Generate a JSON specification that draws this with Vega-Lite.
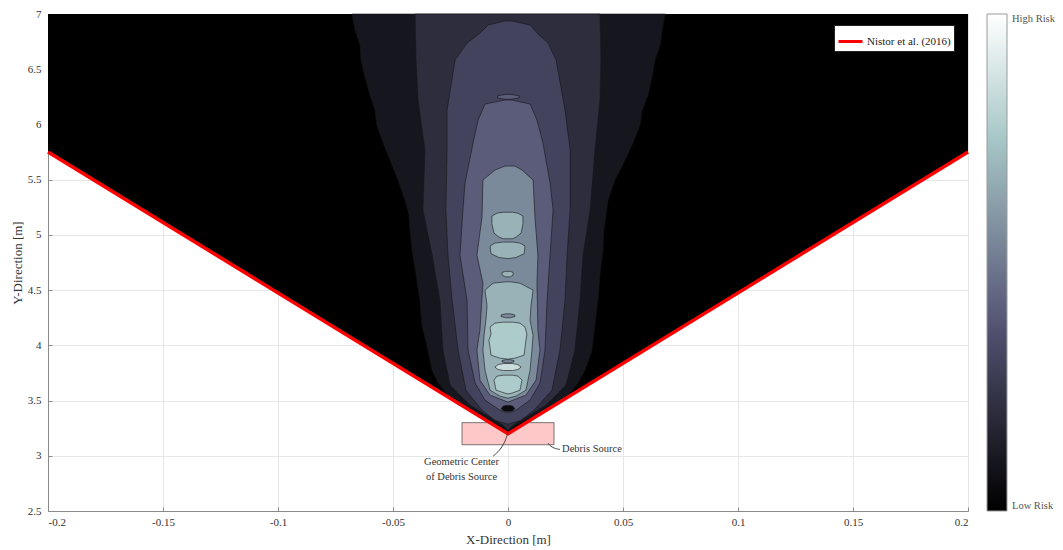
{
  "$schema": "https://vega.github.io/schema/vega-lite/v6.json",
  "width": 920,
  "height": 497,
  "autosize": "none",
  "padding": {"left": 48, "top": 14, "right": 95, "bottom": 39},
  "background": "white",
  "config": {
    "view": {"stroke": "#9a9a9a", "strokeWidth": 1},
    "axis": {
      "labelFont": "Liberation Serif",
      "labelFontSize": 11,
      "labelColor": "#333333",
      "titleFont": "Liberation Serif",
      "titleFontSize": 13,
      "titleFontWeight": "normal",
      "titleColor": "#333333",
      "gridColor": "#e6e6e6",
      "gridWidth": 1,
      "domainColor": "#8a8a8a",
      "tickColor": "#8a8a8a",
      "tickSize": -4
    }
  },
  "datasets": {
    "contours": [
      {"lv":1,"s":"L1","risk":0.1,"y":7.0,"xl":-0.0678,"xr":0.0683},
      {"lv":1,"s":"L1","risk":0.1,"y":6.855,"xl":-0.0665,"xr":0.067},
      {"lv":1,"s":"L1","risk":0.1,"y":6.719,"xl":-0.0643,"xr":0.0661},
      {"lv":1,"s":"L1","risk":0.1,"y":6.583,"xl":-0.0639,"xr":0.0639},
      {"lv":1,"s":"L1","risk":0.1,"y":6.429,"xl":-0.0622,"xr":0.0626},
      {"lv":1,"s":"L1","risk":0.1,"y":6.266,"xl":-0.06,"xr":0.0609},
      {"lv":1,"s":"L1","risk":0.1,"y":6.13,"xl":-0.0578,"xr":0.0583},
      {"lv":1,"s":"L1","risk":0.1,"y":5.995,"xl":-0.057,"xr":0.0574},
      {"lv":1,"s":"L1","risk":0.1,"y":5.832,"xl":-0.0543,"xr":0.0543},
      {"lv":1,"s":"L1","risk":0.1,"y":5.678,"xl":-0.0513,"xr":0.0509},
      {"lv":1,"s":"L1","risk":0.1,"y":5.496,"xl":-0.0478,"xr":0.0465},
      {"lv":1,"s":"L1","risk":0.1,"y":5.315,"xl":-0.0448,"xr":0.0435},
      {"lv":1,"s":"L1","risk":0.1,"y":5.179,"xl":-0.043,"xr":0.0426},
      {"lv":1,"s":"L1","risk":0.1,"y":5.043,"xl":-0.0426,"xr":0.0417},
      {"lv":1,"s":"L1","risk":0.1,"y":4.862,"xl":-0.0417,"xr":0.0413},
      {"lv":1,"s":"L1","risk":0.1,"y":4.636,"xl":-0.04,"xr":0.04},
      {"lv":1,"s":"L1","risk":0.1,"y":4.409,"xl":-0.0383,"xr":0.0391},
      {"lv":1,"s":"L1","risk":0.1,"y":4.183,"xl":-0.0374,"xr":0.0378},
      {"lv":1,"s":"L1","risk":0.1,"y":3.957,"xl":-0.0348,"xr":0.0365},
      {"lv":1,"s":"L1","risk":0.1,"y":3.775,"xl":-0.033,"xr":0.0335},
      {"lv":1,"s":"L1","risk":0.1,"y":3.658,"xl":-0.0304,"xr":0.0304},
      {"lv":1,"s":"L1","risk":0.1,"y":3.549,"xl":-0.0261,"xr":0.0261},
      {"lv":1,"s":"L1","risk":0.1,"y":3.413,"xl":-0.0165,"xr":0.0165},
      {"lv":1,"s":"L1","risk":0.1,"y":3.277,"xl":-0.0035,"xr":0.0035},
      {"lv":1,"s":"L1","risk":0.1,"y":3.213,"xl":0,"xr":0},

      {"lv":2,"s":"L2","risk":0.2,"y":7.0,"xl":-0.0404,"xr":0.04},
      {"lv":2,"s":"L2","risk":0.2,"y":6.583,"xl":-0.04,"xr":0.0404},
      {"lv":2,"s":"L2","risk":0.2,"y":6.221,"xl":-0.0391,"xr":0.04},
      {"lv":2,"s":"L2","risk":0.2,"y":5.768,"xl":-0.0361,"xr":0.0378},
      {"lv":2,"s":"L2","risk":0.2,"y":5.225,"xl":-0.037,"xr":0.0357},
      {"lv":2,"s":"L2","risk":0.2,"y":4.817,"xl":-0.033,"xr":0.0326},
      {"lv":2,"s":"L2","risk":0.2,"y":4.409,"xl":-0.0296,"xr":0.0313},
      {"lv":2,"s":"L2","risk":0.2,"y":3.957,"xl":-0.0283,"xr":0.0291},
      {"lv":2,"s":"L2","risk":0.2,"y":3.639,"xl":-0.0252,"xr":0.0252},
      {"lv":2,"s":"L2","risk":0.2,"y":3.458,"xl":-0.0165,"xr":0.0165},
      {"lv":2,"s":"L2","risk":0.2,"y":3.277,"xl":-0.0022,"xr":0.0022},
      {"lv":2,"s":"L2","risk":0.2,"y":3.232,"xl":0,"xr":0},

      {"lv":3,"s":"L3","risk":0.3,"y":6.937,"xl":-0.0013,"xr":0.0017},
      {"lv":3,"s":"L3","risk":0.3,"y":6.9,"xl":-0.0087,"xr":0.0096},
      {"lv":3,"s":"L3","risk":0.3,"y":6.82,"xl":-0.0125,"xr":0.013},
      {"lv":3,"s":"L3","risk":0.3,"y":6.737,"xl":-0.0178,"xr":0.0174},
      {"lv":3,"s":"L3","risk":0.3,"y":6.583,"xl":-0.023,"xr":0.0209},
      {"lv":3,"s":"L3","risk":0.3,"y":6.13,"xl":-0.0265,"xr":0.0248},
      {"lv":3,"s":"L3","risk":0.3,"y":5.768,"xl":-0.0265,"xr":0.027},
      {"lv":3,"s":"L3","risk":0.3,"y":5.225,"xl":-0.027,"xr":0.027},
      {"lv":3,"s":"L3","risk":0.3,"y":4.817,"xl":-0.0261,"xr":0.0257},
      {"lv":3,"s":"L3","risk":0.3,"y":4.409,"xl":-0.0243,"xr":0.0248},
      {"lv":3,"s":"L3","risk":0.3,"y":3.957,"xl":-0.0217,"xr":0.0226},
      {"lv":3,"s":"L3","risk":0.3,"y":3.594,"xl":-0.0183,"xr":0.0191},
      {"lv":3,"s":"L3","risk":0.3,"y":3.413,"xl":-0.0113,"xr":0.0113},
      {"lv":3,"s":"L3","risk":0.3,"y":3.322,"xl":-0.0057,"xr":0.0057},
      {"lv":3,"s":"L3","risk":0.3,"y":3.286,"xl":0,"xr":0},

      {"lv":4,"s":"L4","risk":0.4,"y":6.221,"xl":-0.0013,"xr":0.0017},
      {"lv":4,"s":"L4","risk":0.4,"y":6.185,"xl":-0.01,"xr":0.0096},
      {"lv":4,"s":"L4","risk":0.4,"y":6.04,"xl":-0.013,"xr":0.0126},
      {"lv":4,"s":"L4","risk":0.4,"y":5.832,"xl":-0.0152,"xr":0.0152},
      {"lv":4,"s":"L4","risk":0.4,"y":5.469,"xl":-0.0187,"xr":0.0183},
      {"lv":4,"s":"L4","risk":0.4,"y":5.225,"xl":-0.0196,"xr":0.0196},
      {"lv":4,"s":"L4","risk":0.4,"y":4.817,"xl":-0.0209,"xr":0.0183},
      {"lv":4,"s":"L4","risk":0.4,"y":4.409,"xl":-0.0178,"xr":0.017},
      {"lv":4,"s":"L4","risk":0.4,"y":3.957,"xl":-0.0174,"xr":0.0161},
      {"lv":4,"s":"L4","risk":0.4,"y":3.658,"xl":-0.0143,"xr":0.0139},
      {"lv":4,"s":"L4","risk":0.4,"y":3.504,"xl":-0.01,"xr":0.0096},
      {"lv":4,"s":"L4","risk":0.4,"y":3.413,"xl":-0.0035,"xr":0.0035},
      {"lv":4,"s":"L4","risk":0.4,"y":3.386,"xl":0,"xr":0},
      {"lv":4,"s":"L4e","risk":0.4,"y":6.272,"xl":-0.001,"xr":0.001},
      {"lv":4,"s":"L4e","risk":0.4,"y":6.26,"xl":-0.0045,"xr":0.0048},
      {"lv":4,"s":"L4e","risk":0.4,"y":6.24,"xl":-0.0045,"xr":0.0048},
      {"lv":4,"s":"L4e","risk":0.4,"y":6.228,"xl":-0.001,"xr":0.001},

      {"lv":5,"s":"L5","risk":0.55,"y":5.623,"xl":-0.0013,"xr":0.003},
      {"lv":5,"s":"L5","risk":0.55,"y":5.587,"xl":-0.0057,"xr":0.0061},
      {"lv":5,"s":"L5","risk":0.55,"y":5.496,"xl":-0.0109,"xr":0.0109},
      {"lv":5,"s":"L5","risk":0.55,"y":5.161,"xl":-0.0113,"xr":0.0117},
      {"lv":5,"s":"L5","risk":0.55,"y":4.817,"xl":-0.0135,"xr":0.013},
      {"lv":5,"s":"L5","risk":0.55,"y":4.563,"xl":-0.0109,"xr":0.0126},
      {"lv":5,"s":"L5","risk":0.55,"y":4.138,"xl":-0.0122,"xr":0.013},
      {"lv":5,"s":"L5","risk":0.55,"y":3.957,"xl":-0.0135,"xr":0.0139},
      {"lv":5,"s":"L5","risk":0.55,"y":3.685,"xl":-0.0122,"xr":0.0122},
      {"lv":5,"s":"L5","risk":0.55,"y":3.549,"xl":-0.0078,"xr":0.0078},
      {"lv":5,"s":"L5","risk":0.55,"y":3.486,"xl":0,"xr":0},

      {"lv":6,"s":"A","risk":0.68,"y":5.205,"xl":-0.002,"xr":0.002},
      {"lv":6,"s":"A","risk":0.68,"y":5.197,"xl":-0.0048,"xr":0.0043},
      {"lv":6,"s":"A","risk":0.68,"y":5.17,"xl":-0.007,"xr":0.0065},
      {"lv":6,"s":"A","risk":0.68,"y":5.1,"xl":-0.007,"xr":0.0065},
      {"lv":6,"s":"A","risk":0.68,"y":5.016,"xl":-0.0061,"xr":0.0057},
      {"lv":6,"s":"A","risk":0.68,"y":4.98,"xl":-0.0039,"xr":0.0035},
      {"lv":6,"s":"A","risk":0.68,"y":4.965,"xl":-0.002,"xr":0.002},
      {"lv":6,"s":"B","risk":0.68,"y":4.935,"xl":-0.002,"xr":0.002},
      {"lv":6,"s":"B","risk":0.68,"y":4.926,"xl":-0.0057,"xr":0.0052},
      {"lv":6,"s":"B","risk":0.68,"y":4.9,"xl":-0.0078,"xr":0.0074},
      {"lv":6,"s":"B","risk":0.68,"y":4.83,"xl":-0.0074,"xr":0.007},
      {"lv":6,"s":"B","risk":0.68,"y":4.795,"xl":-0.0039,"xr":0.0035},
      {"lv":6,"s":"B","risk":0.68,"y":4.785,"xl":0,"xr":0},
      {"lv":6,"s":"C","risk":0.68,"y":4.67,"xl":-0.001,"xr":0.001},
      {"lv":6,"s":"C","risk":0.68,"y":4.66,"xl":-0.0026,"xr":0.0022},
      {"lv":6,"s":"C","risk":0.68,"y":4.635,"xl":-0.0026,"xr":0.0022},
      {"lv":6,"s":"C","risk":0.68,"y":4.62,"xl":-0.001,"xr":0.001},
      {"lv":6,"s":"D","risk":0.68,"y":4.575,"xl":-0.001,"xr":0.001},
      {"lv":6,"s":"D","risk":0.68,"y":4.563,"xl":-0.0065,"xr":0.0052},
      {"lv":6,"s":"D","risk":0.68,"y":4.5,"xl":-0.01,"xr":0.0109},
      {"lv":6,"s":"D","risk":0.68,"y":4.36,"xl":-0.0091,"xr":0.01},
      {"lv":6,"s":"D","risk":0.68,"y":4.228,"xl":-0.0096,"xr":0.0096},
      {"lv":6,"s":"D","risk":0.68,"y":4.09,"xl":-0.0104,"xr":0.0109},
      {"lv":6,"s":"D","risk":0.68,"y":3.957,"xl":-0.0109,"xr":0.0104},
      {"lv":6,"s":"D","risk":0.68,"y":3.775,"xl":-0.01,"xr":0.0096},
      {"lv":6,"s":"D","risk":0.68,"y":3.594,"xl":-0.0078,"xr":0.0078},
      {"lv":6,"s":"D","risk":0.68,"y":3.54,"xl":-0.0035,"xr":0.0035},
      {"lv":6,"s":"D","risk":0.68,"y":3.522,"xl":0,"xr":0},

      {"lv":7,"s":"E","risk":0.77,"y":4.21,"xl":-0.002,"xr":0.002},
      {"lv":7,"s":"E","risk":0.77,"y":4.201,"xl":-0.0057,"xr":0.0052},
      {"lv":7,"s":"E","risk":0.77,"y":4.165,"xl":-0.0078,"xr":0.0074},
      {"lv":7,"s":"E","risk":0.77,"y":4.1,"xl":-0.0074,"xr":0.0082},
      {"lv":7,"s":"E","risk":0.77,"y":4.047,"xl":-0.0083,"xr":0.0078},
      {"lv":7,"s":"E","risk":0.77,"y":3.98,"xl":-0.0078,"xr":0.0074},
      {"lv":7,"s":"E","risk":0.77,"y":3.911,"xl":-0.0074,"xr":0.007},
      {"lv":7,"s":"E","risk":0.77,"y":3.884,"xl":-0.0035,"xr":0.003},
      {"lv":7,"s":"E","risk":0.77,"y":3.875,"xl":0,"xr":0},
      {"lv":7,"s":"F","risk":0.77,"y":3.73,"xl":-0.002,"xr":0.002},
      {"lv":7,"s":"F","risk":0.77,"y":3.721,"xl":-0.0048,"xr":0.0043},
      {"lv":7,"s":"F","risk":0.77,"y":3.685,"xl":-0.0061,"xr":0.0061},
      {"lv":7,"s":"F","risk":0.77,"y":3.594,"xl":-0.0052,"xr":0.0052},
      {"lv":7,"s":"F","risk":0.77,"y":3.567,"xl":-0.0013,"xr":0.0017},
      {"lv":7,"s":"F","risk":0.77,"y":3.56,"xl":0,"xr":0},

      {"lv":8,"s":"G","risk":0.85,"y":3.835,"xl":-0.002,"xr":0.002},
      {"lv":8,"s":"G","risk":0.85,"y":3.825,"xl":-0.0043,"xr":0.0043},
      {"lv":8,"s":"G","risk":0.85,"y":3.803,"xl":-0.0057,"xr":0.0057},
      {"lv":8,"s":"G","risk":0.85,"y":3.781,"xl":-0.0043,"xr":0.0043},
      {"lv":8,"s":"G","risk":0.85,"y":3.772,"xl":-0.002,"xr":0.002},
      {"lv":8,"s":"H","risk":0.55,"y":4.285,"xl":-0.001,"xr":0.001},
      {"lv":8,"s":"H","risk":0.55,"y":4.275,"xl":-0.003,"xr":0.003},
      {"lv":8,"s":"H","risk":0.55,"y":4.26,"xl":-0.003,"xr":0.003},
      {"lv":8,"s":"H","risk":0.55,"y":4.25,"xl":-0.001,"xr":0.001},
      {"lv":8,"s":"I","risk":0.55,"y":3.87,"xl":-0.001,"xr":0.001},
      {"lv":8,"s":"I","risk":0.55,"y":3.862,"xl":-0.0026,"xr":0.0026},
      {"lv":8,"s":"I","risk":0.55,"y":3.85,"xl":-0.0026,"xr":0.0026},
      {"lv":8,"s":"I","risk":0.55,"y":3.842,"xl":-0.001,"xr":0.001},

      {"lv":9,"s":"K","risk":0.05,"y":3.455,"xl":-0.001,"xr":0.001},
      {"lv":9,"s":"K","risk":0.05,"y":3.448,"xl":-0.0022,"xr":0.0022},
      {"lv":9,"s":"K","risk":0.05,"y":3.425,"xl":-0.003,"xr":0.003},
      {"lv":9,"s":"K","risk":0.05,"y":3.405,"xl":-0.0018,"xr":0.0018},
      {"lv":9,"s":"K","risk":0.05,"y":3.4,"xl":0,"xr":0}
    ],
    "wedge": [
      {"x": -0.2, "y": 5.75, "top": 7},
      {"x": 0, "y": 3.2, "top": 7},
      {"x": 0.2, "y": 5.75, "top": 7}
    ],
    "src": [
      {"x": -0.02, "x2": 0.02, "y": 3.1, "y2": 3.3}
    ],
    "lead": [
      {"g": "center", "i": 0, "x": 0, "y": 3.213},
      {"g": "center", "i": 1, "x": -0.0013, "y": 3.123},
      {"g": "center", "i": 2, "x": -0.0035, "y": 3.05},
      {"g": "center", "i": 3, "x": -0.0065, "y": 2.996},
      {"g": "source", "i": 0, "x": 0.0174, "y": 3.114},
      {"g": "source", "i": 1, "x": 0.0185, "y": 3.085},
      {"g": "source", "i": 2, "x": 0.0205, "y": 3.065},
      {"g": "source", "i": 3, "x": 0.0226, "y": 3.057}
    ],
    "txtL": [
      {"x": 0.0235, "y": 3.06, "label": "Debris Source"}
    ],
    "txtC": [
      {"x": -0.0202, "y": 2.942, "label": "Geometric Center"},
      {"x": -0.0202, "y": 2.809, "label": "of Debris Source"}
    ]
  },
  "layer": [
    {
      "data": {"name": "src"},
      "mark": {"type": "rect", "fill": "#ffc8c8", "stroke": "#555555", "strokeWidth": 0.8},
      "encoding": {
        "x": {
          "field": "x", "type": "quantitative",
          "scale": {"domain": [-0.2, 0.2], "nice": false, "zero": false},
          "axis": {
            "title": "X-Direction [m]",
            "values": [-0.2, -0.15, -0.1, -0.05, 0, 0.05, 0.1, 0.15, 0.2],
            "labelExpr": "datum.value < 0 ? '-' + format(-datum.value, '~g') : format(datum.value, '~g')",
            "labelPadding": 9,
            "titlePadding": 6,
            "grid": true
          }
        },
        "x2": {"field": "x2"},
        "y": {
          "field": "y", "type": "quantitative",
          "scale": {"domain": [2.5, 7], "nice": false, "zero": false},
          "axis": {
            "title": "Y-Direction [m]",
            "values": [2.5, 3, 3.5, 4, 4.5, 5, 5.5, 6, 6.5, 7],
            "labelExpr": "format(datum.value, '~g')",
            "labelPadding": 11,
            "titlePadding": 3,
            "grid": true
          }
        },
        "y2": {"field": "y2"}
      }
    },
    {
      "data": {"name": "wedge"},
      "mark": {"type": "area", "fill": "#000000", "orient": "vertical"},
      "encoding": {
        "x": {"field": "x", "type": "quantitative"},
        "y": {"field": "y", "type": "quantitative"},
        "y2": {"field": "top"}
      }
    },
    {
      "data": {"name": "contours"},
      "encoding": {
        "y": {"field": "y", "type": "quantitative"},
        "x": {"field": "xl", "type": "quantitative", "stack": null},
        "x2": {"field": "xr"},
        "detail": {"field": "s", "type": "nominal"},
        "color": {
          "field": "risk", "type": "quantitative",
          "scale": {
            "type": "linear",
            "domain": [0, 0.375, 0.75, 1],
            "range": ["#000000", "#545474", "#a7c7c7", "#ffffff"],
            "interpolate": "rgb"
          },
          "legend": {
            "title": null,
            "orient": "none",
            "legendX": 939,
            "legendY": 0,
            "direction": "vertical",
            "gradientLength": 497,
            "gradientThickness": 20,
            "gradientStrokeColor": "#9a9a9a",
            "gradientStrokeWidth": 1,
            "values": [0, 1],
            "labelExpr": "datum.value >= 1 ? 'High Risk' : 'Low Risk'",
            "labelFont": "Liberation Serif",
            "labelFontSize": 10.5,
            "labelColor": "#555555",
            "labelOffset": 5,
            "labelOverlap": false,
            "padding": 0
          }
        }
      },
      "layer": [
        {"transform": [{"filter": "datum.lv == 1"}], "mark": {"type": "area", "orient": "horizontal", "stroke": "#161616", "strokeWidth": 0.6}},
        {"transform": [{"filter": "datum.lv == 2"}], "mark": {"type": "area", "orient": "horizontal", "stroke": "#161616", "strokeWidth": 0.6}},
        {"transform": [{"filter": "datum.lv == 3"}], "mark": {"type": "area", "orient": "horizontal", "stroke": "#161616", "strokeWidth": 0.6}},
        {"transform": [{"filter": "datum.lv == 4"}], "mark": {"type": "area", "orient": "horizontal", "stroke": "#161616", "strokeWidth": 0.6}},
        {"transform": [{"filter": "datum.lv == 5"}], "mark": {"type": "area", "orient": "horizontal", "stroke": "#161616", "strokeWidth": 0.6}},
        {"transform": [{"filter": "datum.lv == 6"}], "mark": {"type": "area", "orient": "horizontal", "stroke": "#161616", "strokeWidth": 0.6}},
        {"transform": [{"filter": "datum.lv == 7"}], "mark": {"type": "area", "orient": "horizontal", "stroke": "#161616", "strokeWidth": 0.6}},
        {"transform": [{"filter": "datum.lv == 8"}], "mark": {"type": "area", "orient": "horizontal", "stroke": "#161616", "strokeWidth": 0.6}},
        {"transform": [{"filter": "datum.lv == 9"}], "mark": {"type": "area", "orient": "horizontal", "stroke": "#161616", "strokeWidth": 0.6}}
      ]
    },
    {
      "data": {"name": "wedge"},
      "mark": {"type": "line", "strokeWidth": 3.5},
      "encoding": {
        "x": {"field": "x", "type": "quantitative"},
        "y": {"field": "y", "type": "quantitative"},
        "stroke": {
          "datum": "Nistor et al. (2016)", "type": "nominal",
          "scale": {"range": ["#ff0000"]},
          "legend": {
            "title": null,
            "orient": "none",
            "legendX": 786,
            "legendY": 11,
            "padding": 3,
            "fillColor": "#ffffff",
            "strokeColor": "#222222",
            "symbolType": "stroke",
            "symbolSize": 576,
            "symbolStrokeWidth": 3,
            "labelFont": "Liberation Serif",
            "labelFontSize": 11,
            "labelColor": "#222222",
            "labelOffset": 3
          }
        }
      }
    },
    {
      "data": {"name": "lead"},
      "mark": {"type": "line", "color": "#333333", "strokeWidth": 0.9, "interpolate": "basis"},
      "encoding": {
        "x": {"field": "x", "type": "quantitative"},
        "y": {"field": "y", "type": "quantitative"},
        "detail": {"field": "g", "type": "nominal"},
        "order": {"field": "i", "type": "quantitative"}
      }
    },
    {
      "data": {"name": "txtL"},
      "mark": {"type": "text", "align": "left", "baseline": "middle", "font": "Liberation Serif", "fontSize": 10.5, "color": "#333333"},
      "encoding": {
        "x": {"field": "x", "type": "quantitative"},
        "y": {"field": "y", "type": "quantitative"},
        "text": {"field": "label"}
      }
    },
    {
      "data": {"name": "txtC"},
      "mark": {"type": "text", "align": "center", "baseline": "middle", "font": "Liberation Serif", "fontSize": 10.5, "color": "#333333"},
      "encoding": {
        "x": {"field": "x", "type": "quantitative"},
        "y": {"field": "y", "type": "quantitative"},
        "text": {"field": "label"}
      }
    }
  ]
}
